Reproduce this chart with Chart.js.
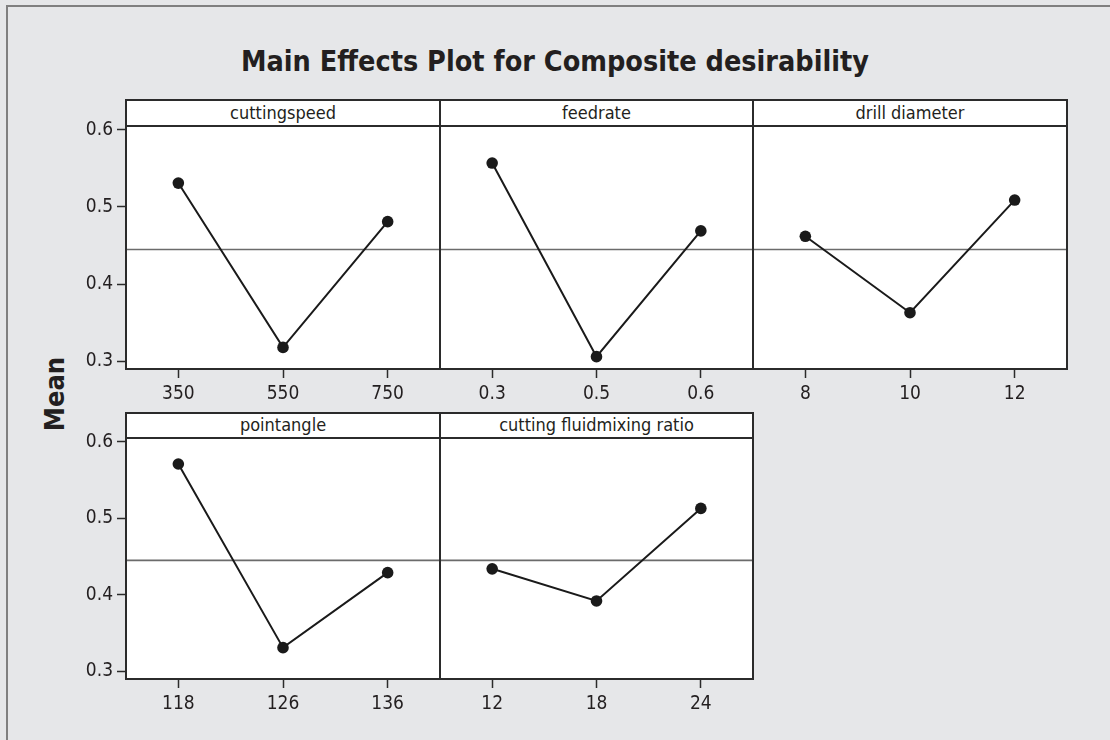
<!DOCTYPE html>
<html>
<head>
<meta charset="utf-8">
<script src="https://cdn.jsdelivr.net/npm/chart.js@4.4.1/dist/chart.umd.min.js"></script>
<style>
  html, body { margin: 0; padding: 0; }
  body { width: 1110px; height: 740px; background: #e6e7e9; position: relative; overflow: hidden;
         font-family: 'DejaVu Sans Condensed', 'DejaVu Sans', sans-serif; color: #231f20; }
  #frame { position: absolute; left: 6px; top: 5px; width: 1200px; height: 800px;
           border-left: 2px solid #808080; border-top: 2px solid #808080; }
  #title { position: absolute; left: 0; width: 1110px; top: 46px; text-align: center;
           font-weight: bold; font-size: 28.5px; line-height: 32px; color: #231f20; }
  #ylab { position: absolute; left: 54px; top: 394px; transform: translate(-50%, -50%) rotate(-90deg);
          font-weight: bold; font-size: 27px; white-space: nowrap; color: #231f20; }
  .strip { position: absolute; box-sizing: border-box; background: #fff; border: 2px solid #2b2b2b;
           text-align: center; font-size: 18px; color: #231f20; white-space: nowrap; }
  canvas { position: absolute; }
</style>
</head>
<body>
<div id="frame"></div>
<div id="title">Main Effects Plot for Composite desirability</div>
<div id="ylab">Mean</div>
<script>
// ---- data ----
const panelNames = ['cuttingspeed', 'feedrate', 'drill diameter', 'pointangle', 'cutting fluidmixing ratio'];
const cuttingspeedLevels = ['350', '550', '750'];
const cuttingspeedMeans = [0.531, 0.318, 0.481];
const feedrateLevels = ['0.3', '0.5', '0.6'];
const feedrateMeans = [0.557, 0.306, 0.469];
const drillDiameterLevels = ['8', '10', '12'];
const drillDiameterMeans = [0.462, 0.363, 0.509];
const pointangleLevels = ['118', '126', '136'];
const pointangleMeans = [0.571, 0.331, 0.429];
const fluidRatioLevels = ['12', '18', '24'];
const fluidRatioMeans = [0.434, 0.392, 0.513];
const overallMean = 0.445;
const yTickValues = [0.3, 0.4, 0.5, 0.6];
const yMin = 0.29;
const yMax = 0.605;

// ---- layout ----
const colEdges = [126, 440, 753, 1067];
const rows = [
  { stripTop: 99, plotTop: 126, plotBottom: 369 },
  { stripTop: 412, plotTop: 438, plotBottom: 679 }
];
const panels = [
  { name: panelNames[0], levels: cuttingspeedLevels, means: cuttingspeedMeans, row: 0, col: 0 },
  { name: panelNames[1], levels: feedrateLevels, means: feedrateMeans, row: 0, col: 1 },
  { name: panelNames[2], levels: drillDiameterLevels, means: drillDiameterMeans, row: 0, col: 2 },
  { name: panelNames[3], levels: pointangleLevels, means: pointangleMeans, row: 1, col: 0 },
  { name: panelNames[4], levels: fluidRatioLevels, means: fluidRatioMeans, row: 1, col: 1 }
];

const FONT = "'DejaVu Sans Condensed', 'DejaVu Sans', sans-serif";
const TEXT = '#231f20';
const LINE = '#2b2b2b';
const PAD = 2, PAD_TOP = 16, XAXIS_H = 44, YAXIS_W = 62;

function zeroPad(s) { s.paddingTop = 0; s.paddingBottom = 0; s.paddingLeft = 0; s.paddingRight = 0; }

const panelPlugin = {
  id: 'panelPlugin',
  beforeDraw(chart) {
    const a = chart.chartArea, c = chart.ctx;
    c.save(); c.fillStyle = '#ffffff';
    c.fillRect(a.left, a.top, a.right - a.left, a.bottom - a.top);
    c.restore();
  },
  beforeDatasetsDraw(chart) {
    const a = chart.chartArea, c = chart.ctx;
    const y = chart.scales.y.getPixelForValue(overallMean);
    c.save(); c.strokeStyle = '#6b6b6b'; c.lineWidth = 1.6;
    c.beginPath(); c.moveTo(a.left, y); c.lineTo(a.right, y); c.stroke();
    c.restore();
  },
  afterDraw(chart) {
    const a = chart.chartArea, c = chart.ctx;
    c.save(); c.strokeStyle = LINE; c.lineWidth = 2;
    c.strokeRect(a.left, a.top, a.right - a.left, a.bottom - a.top);
    c.restore();
  }
};

panels.forEach(p => {
  const r = rows[p.row];
  const left = colEdges[p.col], right = colEdges[p.col + 1];
  const showY = p.col === 0;
  const yw = showY ? YAXIS_W : 0;

  const strip = document.createElement('div');
  strip.className = 'strip';
  strip.style.left = (left - 1) + 'px';
  strip.style.top = r.stripTop + 'px';
  strip.style.width = (right - left + 2) + 'px';
  strip.style.height = (r.plotTop - r.stripTop + 1) + 'px';
  strip.style.lineHeight = (r.plotTop - r.stripTop - 4) + 'px';
  strip.textContent = p.name;
  document.body.appendChild(strip);

  const cv = document.createElement('canvas');
  const W = (right - left) + yw + 2 * PAD;
  const H = (r.plotBottom - r.plotTop) + PAD_TOP + XAXIS_H;
  cv.width = W; cv.height = H;
  cv.style.width = W + 'px'; cv.style.height = H + 'px';
  cv.style.left = (left - yw - PAD) + 'px';
  cv.style.top = (r.plotTop - PAD_TOP) + 'px';
  document.body.appendChild(cv);

  const yScale = {
    display: showY,
    min: yMin, max: yMax,
    border: { display: false },
    grid: { display: true, drawOnChartArea: false, drawTicks: true,
            tickLength: 9, tickColor: LINE, tickWidth: 1.5 },
    ticks: { color: TEXT, font: { family: FONT, size: 19 }, padding: 4,
             callback: v => Number(v).toFixed(1) },
    afterBuildTicks(s) { s.ticks = yTickValues.map(v => ({ value: v })); }
  };
  if (showY) yScale.afterFit = s => { s.width = YAXIS_W; zeroPad(s); };

  new Chart(cv, {
    type: 'line',
    data: {
      labels: p.levels,
      datasets: [{
        data: p.means,
        borderColor: '#1a1a1a',
        backgroundColor: '#1a1a1a',
        borderWidth: 2,
        pointRadius: 5.8,
        pointBorderWidth: 0,
        pointBackgroundColor: '#1a1a1a',
        tension: 0,
        clip: false
      }]
    },
    options: {
      responsive: false,
      animation: false,
      devicePixelRatio: 1,
      layout: { autoPadding: false, padding: { left: PAD, right: PAD, top: PAD_TOP, bottom: 0 } },
      plugins: { legend: { display: false }, tooltip: { enabled: false }, title: { display: false } },
      scales: {
        x: {
          type: 'category',
          offset: true,
          border: { display: false },
          grid: { display: true, offset: false, drawOnChartArea: false, drawTicks: true,
                  tickLength: 9, tickColor: LINE, tickWidth: 1.5 },
          ticks: { color: TEXT, font: { family: FONT, size: 19 }, padding: 5, maxRotation: 0, autoSkip: false },
          afterFit(s) { s.height = XAXIS_H; zeroPad(s); }
        },
        y: yScale
      }
    },
    plugins: [panelPlugin]
  });
});
</script>
</body>
</html>
